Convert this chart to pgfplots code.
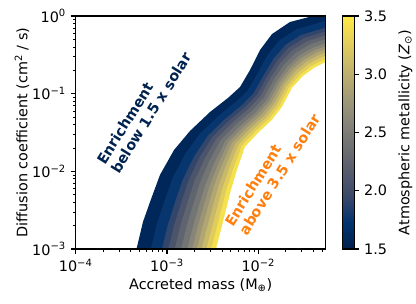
\documentclass[border=0pt]{standalone}
\usepackage{fontspec}
\setmainfont{DejaVu Sans}
\usepackage{pgfplots}
\pgfplotsset{compat=1.18}
\definecolor{b1}{RGB}{0,39,90}
\definecolor{b2}{RGB}{7,54,110}
\definecolor{b3}{RGB}{50,69,107}
\definecolor{b4}{RGB}{76,84,108}
\definecolor{b5}{RGB}{96,100,111}
\definecolor{b6}{RGB}{115,116,116}
\definecolor{b7}{RGB}{135,132,120}
\definecolor{b8}{RGB}{155,149,118}
\definecolor{b9}{RGB}{177,166,114}
\definecolor{b10}{RGB}{200,184,106}
\definecolor{b11}{RGB}{224,204,93}
\definecolor{b12}{RGB}{245,224,78}
\definecolor{navytxt}{RGB}{0,34,78}
\definecolor{orangetxt}{RGB}{255,127,14}
\pgfplotsset{
  every axis/.append style={
    tick align=outside,
    major tick length=4.9pt, minor tick length=2.8pt,
    every major tick/.append style={line width=1.1pt, black},
    every minor tick/.append style={line width=0.8pt, black},
    axis line style={line width=1.1pt},
  },
  /pgf/number format/assume math mode=true,
}
\begin{document}
\fontsize{14.4pt}{16.5pt}\selectfont
\begin{tikzpicture}
\useasboundingbox (0,0) rectangle (416pt,304pt);
\begin{axis}[
  at={(75.7pt,55pt)}, anchor=south west,
  scale only axis, width=250pt, height=233pt,
  xmin=-4, xmax=-1.262, ymin=-3, ymax=0,
  axis on top,
  xtick pos=left, ytick pos=left,
  xtick={-4,-3,-2},
  xticklabels={10\textsuperscript{−4},10\textsuperscript{−3},10\textsuperscript{−2}},
  minor xtick={-3.699,-3.523,-3.398,-3.301,-3.222,-3.155,-3.097,-3.046,
               -2.699,-2.523,-2.398,-2.301,-2.222,-2.155,-2.097,-2.046,
               -1.699,-1.523,-1.398,-1.301},
  ytick={-3,-2,-1,0},
  yticklabels={10\textsuperscript{−3},10\textsuperscript{−2},10\textsuperscript{−1},10\textsuperscript{0}},
  minor ytick={-2.699,-2.523,-2.398,-2.301,-2.222,-2.155,-2.097,-2.046,
               -1.699,-1.523,-1.398,-1.301,-1.222,-1.155,-1.097,-1.046,
               -0.699,-0.523,-0.398,-0.301,-0.222,-0.155,-0.097,-0.046},
  xlabel={Accreted mass (M\textsubscript{⊕})},
  ylabel={Diffusion coefficient (cm\textsuperscript{2} / s)},
  every axis x label/.style={at={(axis description cs:0.5,-0.155)}, anchor=center},
  every axis y label/.style={at={(axis description cs:-0.215,0.5)}, rotate=90, anchor=center},
  colormap={civ}{rgb255=(0,32,77) rgb255=(0,51,111) rgb255=(57,72,107) rgb255=(87,92,109) rgb255=(112,113,115) rgb255=(138,135,121) rgb255=(166,157,117) rgb255=(196,181,108) rgb255=(228,207,91) rgb255=(255,234,70)},
  colorbar,
  point meta min=1.5, point meta max=3.5,
  colorbar style={
    at={(parent axis.north east)}, anchor=north west, xshift=8.3pt,
    scale only axis, width=11.7pt, height=233pt,
    ymin=1.5, ymax=3.5,
    ytick={1.5,2,2.5,3,3.5},
    yticklabels={1.5,2.0,2.5,3.0,3.5},
    minor ytick={},
    ytick pos=right, yticklabel pos=right,
    tick align=outside,
    ylabel={Atmospheric metallicity (\textit{Z}\textsubscript{⊙})},
    every axis y label/.style={at={(axis description cs:5.38,0.5)}, rotate=90, anchor=center},
  },
]
\addplot[fill=b1, draw=none] coordinates {(-3.361,-3.166) (-3.334,-3.0) (-3.263,-2.651) (-3.186,-2.394) (-3.077,-2.046) (-2.923,-1.725) (-2.748,-1.480) (-2.529,-1.236) (-2.332,-1.055) (-2.200,-0.914) (-2.091,-0.695) (-1.981,-0.438) (-1.850,-0.232) (-1.653,-0.077) (-1.401,0) (-1.050,0.142) (-0.9,-3.5) (-3.361,-3.5)};
\addplot[fill=b2, draw=none] coordinates {(-3.205,-3.166) (-3.177,-3.0) (-3.109,-2.670) (-3.036,-2.413) (-2.937,-2.081) (-2.799,-1.771) (-2.640,-1.517) (-2.434,-1.285) (-2.245,-1.106) (-2.117,-0.960) (-2.008,-0.737) (-1.896,-0.498) (-1.767,-0.311) (-1.582,-0.170) (-1.348,-0.093) (-1.040,0.033) (-0.9,-3.5) (-3.205,-3.5)};
\addplot[fill=b3, draw=none] coordinates {(-3.084,-3.166) (-3.055,-3.0) (-2.990,-2.684) (-2.920,-2.427) (-2.828,-2.108) (-2.702,-1.807) (-2.555,-1.546) (-2.361,-1.322) (-2.178,-1.146) (-2.053,-0.996) (-1.944,-0.769) (-1.830,-0.545) (-1.703,-0.372) (-1.527,-0.242) (-1.306,-0.165) (-1.033,-0.052) (-0.9,-3.5) (-3.084,-3.5)};
\addplot[fill=b4, draw=none] coordinates {(-3.015,-3.166) (-2.986,-3.0) (-2.921,-2.692) (-2.853,-2.435) (-2.766,-2.123) (-2.647,-1.828) (-2.507,-1.562) (-2.319,-1.344) (-2.139,-1.168) (-2.016,-1.017) (-1.907,-0.788) (-1.793,-0.572) (-1.666,-0.407) (-1.495,-0.283) (-1.283,-0.206) (-1.028,-0.100) (-0.9,-3.5) (-3.015,-3.5)};
\addplot[fill=b5, draw=none] coordinates {(-2.946,-3.166) (-2.916,-3.0) (-2.853,-2.700) (-2.787,-2.443) (-2.704,-2.139) (-2.592,-1.848) (-2.459,-1.579) (-2.277,-1.366) (-2.101,-1.191) (-1.979,-1.037) (-1.870,-0.806) (-1.755,-0.598) (-1.629,-0.442) (-1.463,-0.324) (-1.259,-0.247) (-1.024,-0.148) (-0.9,-3.5) (-2.946,-3.5)};
\addplot[fill=b6, draw=none] coordinates {(-2.877,-3.166) (-2.846,-3.0) (-2.785,-2.709) (-2.720,-2.452) (-2.641,-2.154) (-2.537,-1.869) (-2.411,-1.595) (-2.234,-1.387) (-2.062,-1.213) (-1.942,-1.058) (-1.833,-0.825) (-1.717,-0.625) (-1.592,-0.477) (-1.432,-0.365) (-1.235,-0.288) (-1.020,-0.197) (-0.9,-3.5) (-2.877,-3.5)};
\addplot[fill=b7, draw=none] coordinates {(-2.807,-3.166) (-2.777,-3.0) (-2.716,-2.717) (-2.654,-2.460) (-2.579,-2.170) (-2.481,-1.889) (-2.363,-1.612) (-2.192,-1.409) (-2.024,-1.236) (-1.906,-1.078) (-1.797,-0.843) (-1.680,-0.652) (-1.556,-0.512) (-1.400,-0.407) (-1.212,-0.330) (-1.015,-0.245) (-0.9,-3.5) (-2.807,-3.5)};
\addplot[fill=b8, draw=none] coordinates {(-2.755,-3.166) (-2.724,-3.0) (-2.665,-2.723) (-2.604,-2.466) (-2.532,-2.181) (-2.440,-1.905) (-2.327,-1.624) (-2.161,-1.425) (-1.995,-1.253) (-1.878,-1.094) (-1.769,-0.857) (-1.651,-0.672) (-1.528,-0.538) (-1.376,-0.438) (-1.194,-0.361) (-1.012,-0.282) (-0.9,-3.5) (-2.755,-3.5)};
\addplot[fill=b9, draw=none] coordinates {(-2.704,-3.166) (-2.672,-3.0) (-2.614,-2.729) (-2.554,-2.472) (-2.486,-2.193) (-2.399,-1.920) (-2.290,-1.637) (-2.129,-1.441) (-1.966,-1.270) (-1.850,-1.109) (-1.741,-0.871) (-1.623,-0.692) (-1.500,-0.564) (-1.353,-0.468) (-1.176,-0.391) (-1.009,-0.318) (-0.9,-3.5) (-2.704,-3.5)};
\addplot[fill=b10, draw=none] coordinates {(-2.652,-3.166) (-2.620,-3.0) (-2.563,-2.735) (-2.504,-2.478) (-2.439,-2.204) (-2.357,-1.936) (-2.254,-1.649) (-2.098,-1.457) (-1.937,-1.287) (-1.823,-1.125) (-1.714,-0.885) (-1.595,-0.712) (-1.473,-0.590) (-1.329,-0.499) (-1.158,-0.422) (-1.006,-0.354) (-0.9,-3.5) (-2.652,-3.5)};
\addplot[fill=b11, draw=none] coordinates {(-2.600,-3.166) (-2.568,-3.0) (-2.511,-2.742) (-2.454,-2.485) (-2.392,-2.216) (-2.316,-1.951) (-2.218,-1.661) (-2.066,-1.474) (-1.908,-1.304) (-1.795,-1.140) (-1.686,-0.899) (-1.567,-0.732) (-1.445,-0.617) (-1.305,-0.530) (-1.141,-0.453) (-1.002,-0.390) (-0.9,-3.5) (-2.600,-3.5)};
\addplot[fill=b12, draw=none] coordinates {(-2.548,-3.166) (-2.515,-3.0) (-2.460,-2.748) (-2.404,-2.491) (-2.346,-2.227) (-2.274,-1.967) (-2.182,-1.674) (-2.035,-1.490) (-1.879,-1.321) (-1.768,-1.156) (-1.659,-0.913) (-1.538,-0.752) (-1.418,-0.643) (-1.282,-0.561) (-1.123,-0.484) (-0.999,-0.427) (-0.9,-3.5) (-2.548,-3.5)};
\addplot[fill=white, draw=none] coordinates {(-2.496,-3.166) (-2.463,-3.0) (-2.409,-2.754) (-2.354,-2.497) (-2.299,-2.239) (-2.233,-1.982) (-2.146,-1.686) (-2.003,-1.506) (-1.850,-1.338) (-1.740,-1.171) (-1.631,-0.927) (-1.510,-0.772) (-1.390,-0.669) (-1.258,-0.592) (-1.105,-0.515) (-0.996,-0.463) (-0.9,-3.5) (-2.496,-3.5)};
\node[rotate=58, align=left, anchor=center, inner sep=0pt, text=navytxt, font=\bfseries] at (axis cs:-3.249,-1.189) {Enrichment\\below 1.5 x solar};
\node[rotate=58, align=left, anchor=center, inner sep=0pt, text=orangetxt, font=\bfseries] at (axis cs:-1.843,-1.983) {Enrichment\\above 3.5 x solar};
\end{axis}
\end{tikzpicture}
\end{document}
